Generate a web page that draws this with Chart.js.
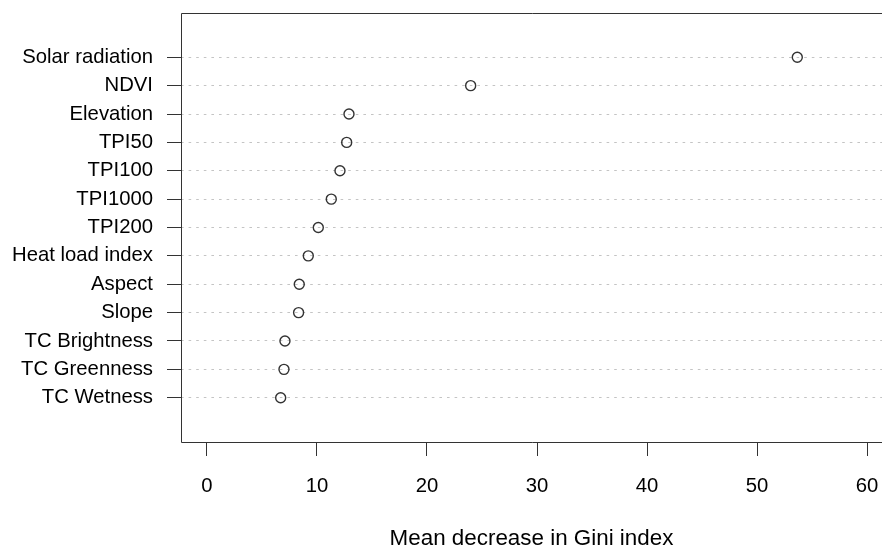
<!DOCTYPE html>
<html>
<head>
    <title>Variable importance</title>
    <script src="https://cdn.jsdelivr.net/npm/chart.js"></script>
    <style>
        body {
            background-color: white;
            margin: 0;
        }
        canvas {
            display: block;
        }
    </style>
</head>
<body>
    <canvas id="giniChart" width="882" height="546"></canvas>

    <script>
        // predictors, top row first
        const variables = [
            "Solar radiation", "NDVI", "Elevation", "TPI50", "TPI100",
            "TPI1000", "TPI200", "Heat load index", "Aspect", "Slope",
            "TC Brightness", "TC Greenness", "TC Wetness"
        ];

        const meanDecreaseGini = [
            53.66, 23.97, 12.91, 12.7, 12.09,
            11.3, 10.12, 9.21, 8.39, 8.33,
            7.09, 7.0, 6.7
        ];

        const xTicks = [0, 10, 20, 30, 40, 50, 60];

        // rows sit on y = 13 (top) down to 1 (bottom)
        const n = variables.length;
        const rowY = variables.map((_, i) => n - i);
        const points = meanDecreaseGini.map((v, i) => ({ x: v, y: rowY[i] }));

        const fontFamily = "'Liberation Sans', Arial, sans-serif";
        const font = { family: fontFamily, size: 20.3 };
        const ink = '#333333';

        // box round the plot (right side falls off the canvas)
        const plotBox = {
            id: 'plotBox',
            afterDraw(chart) {
                const { ctx, chartArea: a } = chart;
                ctx.save();
                ctx.strokeStyle = ink;
                ctx.lineWidth = 1;
                ctx.beginPath();
                ctx.moveTo(a.right + 1, Math.round(a.top) + 0.5);
                ctx.lineTo(Math.round(a.left) + 0.5, Math.round(a.top) + 0.5);
                ctx.lineTo(Math.round(a.left) + 0.5, Math.round(a.bottom) + 0.5);
                ctx.lineTo(a.right + 1, Math.round(a.bottom) + 0.5);
                ctx.stroke();
                ctx.restore();
            }
        };

        // labels are never at the axis ends, so drop the edge padding
        const noEdgePadding = (scale) => {
            scale.paddingTop = 0;
            scale.paddingBottom = 0;
            scale.paddingLeft = 0;
            scale.paddingRight = 0;
        };

        const ctx = document.getElementById('giniChart').getContext('2d');
        new Chart(ctx, {
            type: 'scatter',
            data: {
                datasets: [{
                    data: points,
                    pointStyle: 'circle',
                    pointRadius: 5,
                    pointHoverRadius: 5,
                    backgroundColor: 'rgba(0,0,0,0)',
                    borderColor: ink,
                    borderWidth: 1.4
                }]
            },
            options: {
                responsive: false,
                animation: false,
                layout: {
                    autoPadding: false,
                    padding: { top: 13, right: 0, bottom: 0, left: 0 }
                },
                plugins: {
                    legend: { display: false },
                    tooltip: { enabled: false }
                },
                scales: {
                    x: {
                        type: 'linear',
                        min: -2.36,
                        max: 61.36,
                        afterBuildTicks: (scale) => {
                            scale.ticks = xTicks.map(v => ({ value: v }));
                        },
                        afterFit: (scale) => {
                            scale.height = 104;
                            noEdgePadding(scale);
                        },
                        grid: {
                            drawOnChartArea: false,
                            drawTicks: true,
                            tickLength: 14,
                            tickColor: ink,
                            tickWidth: 1
                        },
                        border: { display: false },
                        ticks: {
                            color: '#000',
                            font: font,
                            padding: 18,
                            maxRotation: 0
                        },
                        title: {
                            display: true,
                            text: 'Mean decrease in Gini index',
                            color: '#000',
                            font: { family: fontFamily, size: 22.4 },
                            padding: { top: 0, bottom: -6 }
                        }
                    },
                    y: {
                        type: 'linear',
                        min: -0.56,
                        max: 14.56,
                        afterBuildTicks: (scale) => {
                            scale.ticks = rowY.map(v => ({ value: v }));
                        },
                        afterFit: (scale) => {
                            scale.width = 181;
                            noEdgePadding(scale);
                        },
                        grid: {
                            color: '#c4c4c4',
                            lineWidth: 1,
                            tickLength: 14,
                            tickColor: ink,
                            tickWidth: 1
                        },
                        border: { display: false, dash: [2.6, 5] },
                        ticks: {
                            color: '#000',
                            font: font,
                            padding: 14,
                            callback: (value) => variables[n - value]
                        }
                    }
                }
            },
            plugins: [plotBox]
        });
    </script>
</body>
</html>
